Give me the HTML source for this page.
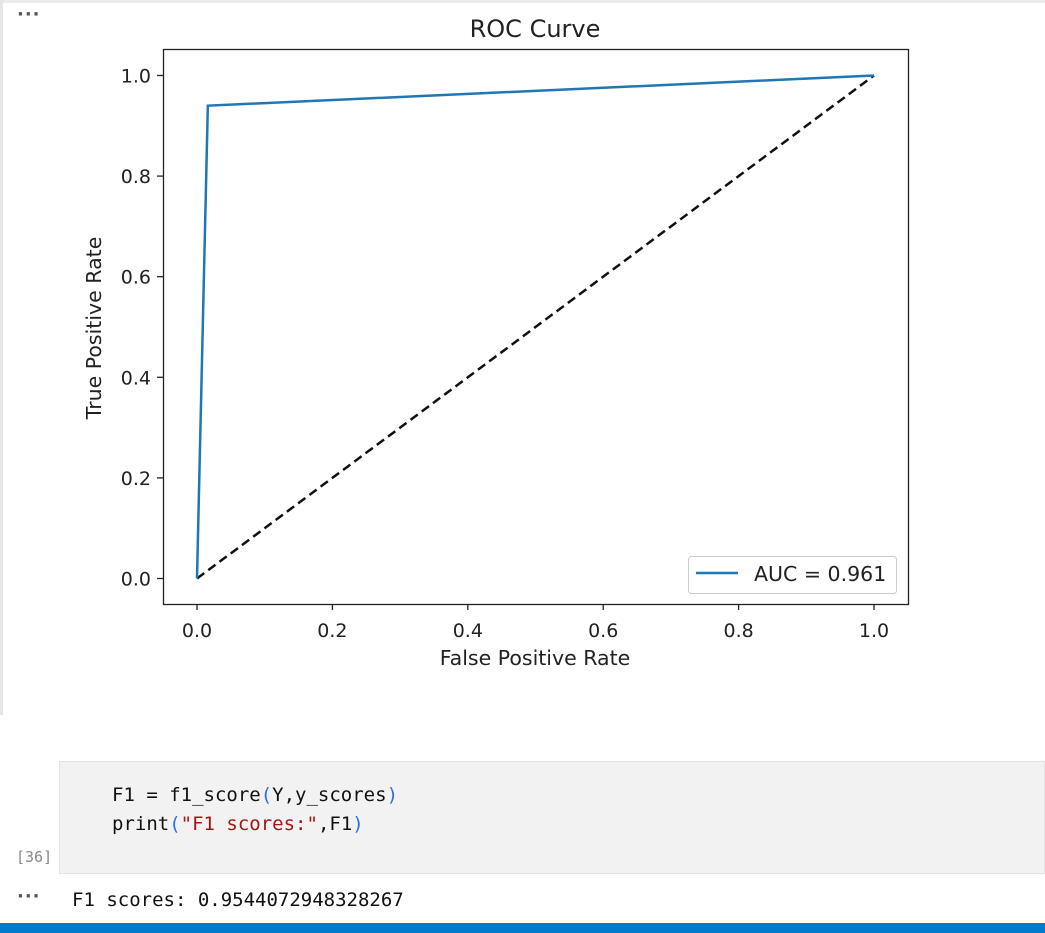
<!DOCTYPE html>
<html><head><meta charset="utf-8"><style>
body{margin:0;width:1045px;height:933px;background:#fff;position:relative;overflow:hidden;font-family:"DejaVu Sans","Liberation Sans",sans-serif}
.mono{font-family:"DejaVu Sans Mono","Liberation Mono",monospace}
</style></head><body>
<div style="position:absolute;left:0;top:0;width:1045px;height:3px;background:#ececec"></div>
<div style="position:absolute;left:0;top:0;width:3px;height:715px;background:#e6e6e6"></div>
<div style="position:absolute;left:17px;top:4px;font-size:18px;font-weight:bold;color:#555;letter-spacing:1px">···</div>
<svg width="1045" height="715" style="position:absolute;left:0;top:0">
<text x="535" y="37" font-size="24" text-anchor="middle" fill="#222">ROC Curve</text>
<g id="ticks"></g>
<rect x="163.5" y="49.5" width="745" height="555" fill="none" stroke="#222" stroke-width="1.3"/>
<line id="diag" stroke="#111" stroke-width="2.5" stroke-dasharray="9,5"/>
<polyline id="roc" fill="none" stroke="#1f77b4" stroke-width="2.5"/>
<text x="535" y="665" font-size="20.5" text-anchor="middle" fill="#222">False Positive Rate</text>
<text transform="translate(101,328) rotate(-90)" font-size="20.5" text-anchor="middle" fill="#222">True Positive Rate</text>
<g>
<rect x="688.5" y="556.5" width="208" height="37" rx="3" fill="#fff" stroke="#ccc"/>
<line x1="696" y1="573" x2="738" y2="573" stroke="#1f77b4" stroke-width="2.5"/>
<text x="754" y="581" font-size="20.5" fill="#222">AUC = 0.961</text>
</g>
</svg>
<div class="mono" style="position:absolute;left:59px;top:761px;width:986px;height:113px;background:#f2f2f2;border:1px solid #e3e3e3;box-sizing:border-box;font-size:19px;line-height:29px;padding:19px 0 0 52px;color:#111">
<div>F1 = f1_score<span style="color:#2f6ee8">(</span>Y,y_scores<span style="color:#2f6ee8">)</span></div>
<div>print<span style="color:#2f6ee8">(</span><span style="color:#a31515">"F1 scores:"</span>,F1<span style="color:#2f6ee8">)</span></div>
</div>
<div class="mono" style="position:absolute;left:16px;top:848px;font-size:15px;color:#888">[36]</div>
<div style="position:absolute;left:17px;top:886px;font-size:18px;font-weight:bold;color:#555;letter-spacing:1px">···</div>
<div class="mono" style="position:absolute;left:72px;top:889px;font-size:19px;color:#111">F1 scores: 0.9544072948328267</div>
<div style="position:absolute;left:0;top:923px;width:1045px;height:10px;background:#007acc"></div>
<script>
const fpr=[0,0.016,1];
const tpr=[0,0.94,1];
const xTicks=[0,0.2,0.4,0.6,0.8,1.0];
const yTicks=[0,0.2,0.4,0.6,0.8,1.0];
const X=v=>197+v*677, Y=v=>578.5-v*503;
const ns='http://www.w3.org/2000/svg',g=document.getElementById('ticks');
function mk(t,a){const e=document.createElementNS(ns,t);for(const k in a)e.setAttribute(k,a[k]);g.appendChild(e);return e;}
xTicks.forEach(v=>{
 const l=mk('line',{x1:X(v),x2:X(v),y1:604,y2:610,stroke:'#222','stroke-width':1.3});
 
 
 const t=mk('text',{x:X(v),y:637,'font-size':19,'text-anchor':'middle',fill:'#222'});t.textContent=v.toFixed(1);
 
 
});
yTicks.forEach(v=>{
 const l=mk('line',{x1:157,x2:163,y1:Y(v),y2:Y(v),stroke:'#222','stroke-width':1.3});
 
 
 const t=mk('text',{x:151,y:Y(v)+7,'font-size':19,'text-anchor':'end',fill:'#222'});t.textContent=v.toFixed(1);
 
 
});
document.getElementById('roc').setAttribute('points',fpr.map((f,i)=>X(f)+','+Y(tpr[i])).join(' '));
const d=document.getElementById('diag');
d.setAttribute('x1',X(0));d.setAttribute('y1',Y(0));d.setAttribute('x2',X(1));d.setAttribute('y2',Y(1));
</script>
</body></html>
